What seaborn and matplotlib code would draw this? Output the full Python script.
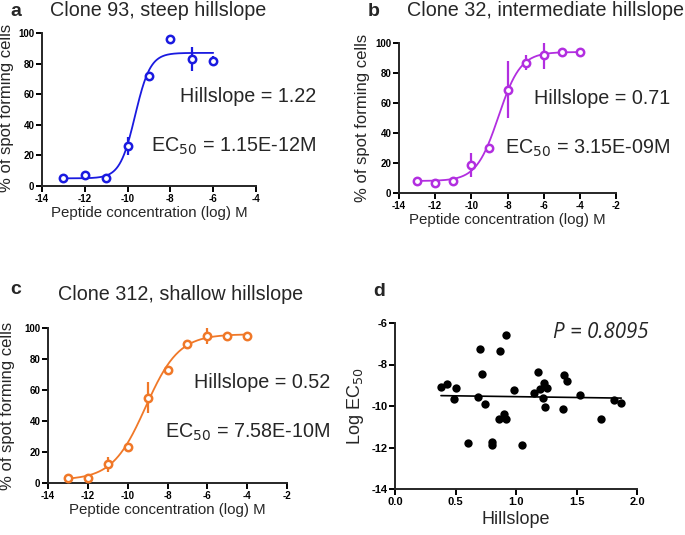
import numpy as np
import pandas as pd
import seaborn as sns
import matplotlib
matplotlib.use("Agg")
import matplotlib.pyplot as plt

# ---- data ----
a_x = [-13, -12, -11, -10, -9, -8, -7, -6]
a_y = [5, 7, 5, 26, 72, 96, 83, 82]
a_err = [0, 0, 0, 6, 0, 3, 8, 3]
a_fit = dict(bottom=5, top=87, logec50=-9.65, hill=1.22)

b_x = [-13, -12, -11, -10, -9, -8, -7, -6, -5, -4]
b_y = [8, 7, 8, 19, 30, 69, 87, 92, 94, 94]
b_err = [0, 0, 0, 8, 0, 19, 5, 9, 0, 0]
b_fit = dict(bottom=8, top=94, logec50=-8.5, hill=0.71)

c_x = [-13, -12, -11, -10, -9, -8, -7, -6, -5, -4]
c_y = [3, 3, 12, 23, 55, 73, 90, 95, 95, 95]
c_err = [0, 0, 5, 3, 10, 0, 0, 5, 0, 0]
c_fit = dict(bottom=2, top=96, logec50=-9.1, hill=0.52)

d_hill = [0.38, 0.43, 0.50, 0.49, 0.60, 0.70, 0.69, 0.72, 0.74, 0.80, 0.80,
          0.87, 0.92, 0.86, 0.90, 0.92, 0.98, 1.05, 1.15, 1.18, 1.20, 1.23,
          1.22, 1.24, 1.26, 1.40, 1.42, 1.39, 1.53, 1.70, 1.81, 1.87]
d_logec50 = [-9.08, -8.95, -9.11, -9.64, -11.77, -7.23, -9.56, -8.48, -9.91,
             -11.72, -11.88, -7.36, -6.59, -10.63, -10.39, -10.65, -9.21,
             -11.88, -9.35, -8.36, -9.16, -8.87, -9.61, -10.04, -9.13, -8.50,
             -8.79, -10.13, -9.48, -10.63, -9.72, -9.85]

W, H = 685, 535
FONT = ["Liberation Sans", "DejaVu Sans"]

sns.set_theme(style="ticks")
plt.rcParams["font.family"] = FONT
plt.rcParams["axes.unicode_minus"] = False
plt.rcParams["axes.linewidth"] = 1.4
plt.rcParams["xtick.major.width"] = 1.4
plt.rcParams["ytick.major.width"] = 1.4
plt.rcParams["xtick.major.size"] = 4
plt.rcParams["ytick.major.size"] = 4

fig = plt.figure(figsize=(W / 100, H / 100), dpi=100)


def px_axes(x0, y0, x1, y1):
    return fig.add_axes([x0 / W, 1 - y1 / H, (x1 - x0) / W, (y1 - y0) / H])


def ftext(x, y, s, **kw):
    fig.text(x / W, 1 - y / H, s, **kw)


def style_ticks(ax, size=7):
    sns.despine(ax=ax)
    for lab in ax.get_xticklabels() + ax.get_yticklabels():
        lab.set_fontweight("bold")
        lab.set_fontsize(size)
    ax.tick_params(pad=1.5, colors="black")


def dose_panel(box, x, y, err, fit, color, xmax, letter, title, lpos, tpos,
               hill_txt, ec_txt, txt_right, hill_y, ec_y, ylab_x, ylab_y):
    ax = px_axes(*box)
    xs = np.linspace(min(x), max(x), 300)
    curve = fit["bottom"] + (fit["top"] - fit["bottom"]) / (
        1 + 10 ** ((fit["logec50"] - xs) * fit["hill"]))
    sns.lineplot(x=xs, y=curve, ax=ax, color=color, lw=1.3)
    ax.errorbar(x, y, yerr=err, fmt="none", ecolor=color, elinewidth=1.6,
                capsize=0)
    sns.scatterplot(x=x, y=y, ax=ax, s=28, facecolor="white",
                    edgecolor=color, linewidth=1.8, zorder=3)
    ax.set_xlim(-14, xmax)
    ax.set_ylim(0, 100)
    ax.set_xticks(np.arange(-14, xmax + 1, 2))
    ax.set_yticks(np.arange(0, 101, 20))
    ax.set_xlabel("Peptide concentration (log) M", fontsize=10.8, labelpad=2)
    ax.set_ylabel("")
    ftext(ylab_x, ylab_y, "% of spot forming cells",
          rotation=90, ha="center", va="center", fontsize=12)
    style_ticks(ax)
    ftext(lpos[0], lpos[1], letter, fontsize=14, fontweight="bold",
          va="center", ha="left")
    ftext(tpos[0], tpos[1], title, fontsize=14.2, va="center", ha="left")
    ftext(txt_right, hill_y, hill_txt, fontsize=14.2, va="center", ha="right")
    ftext(txt_right, ec_y, ec_txt, fontsize=14.2, va="center", ha="right")
    return ax


dose_panel((42, 33, 256, 186), a_x, a_y, a_err, a_fit, "#1a1ae0", -4,
           "a", "Clone 93, steep hillslope", (10, 11), (50, 11),
           "Hillslope = 1.22", r"EC$_{50}$ = 1.15E-12M", 316, 97, 146, 7, 108)

dose_panel((399, 43, 616, 193), b_x, b_y, b_err, b_fit, "#b22ee0", -2,
           "b", "Clone 32, intermediate hillslope", (368, 11), (407, 11),
           "Hillslope = 0.71", r"EC$_{50}$ = 3.15E-09M", 670, 99, 148, 362,
           118)

dose_panel((48, 328, 287, 483), c_x, c_y, c_err, c_fit, "#f07828", -2,
           "c", "Clone 312, shallow hillslope", (10, 290), (58, 295),
           "Hillslope = 0.52", r"EC$_{50}$ = 7.58E-10M", 330, 383, 432, 8,
           406)

# ---- panel d ----
axd = px_axes(395, 323, 637, 489)
df = pd.DataFrame({"hill": d_hill, "logec50": d_logec50})
sns.regplot(data=df, x="hill", y="logec50", ax=axd, ci=None, color="black",
            scatter_kws=dict(s=36, linewidths=0, alpha=1),
            line_kws=dict(lw=1.2))
axd.set_xlim(0, 2)
axd.set_ylim(-14, -6)
axd.set_xticks([0.0, 0.5, 1.0, 1.5, 2.0])
axd.set_xticklabels(["0.0", "0.5", "1.0", "1.5", "2.0"])
axd.set_yticks([-14, -12, -10, -8, -6])
axd.set_xlabel("Hillslope", fontsize=13, labelpad=3)
axd.set_ylabel(r"Log EC$_{50}$", fontsize=13, labelpad=4)
style_ticks(axd, size=8)
ftext(373, 292, "d", fontsize=14, fontweight="bold", va="center", ha="left")
ftext(553, 333, "P = 0.8095", fontsize=14.8, style="italic",
      family=["Open Sans", "DejaVu Sans"], va="center", ha="left")

fig.savefig("out.png", dpi=100)
